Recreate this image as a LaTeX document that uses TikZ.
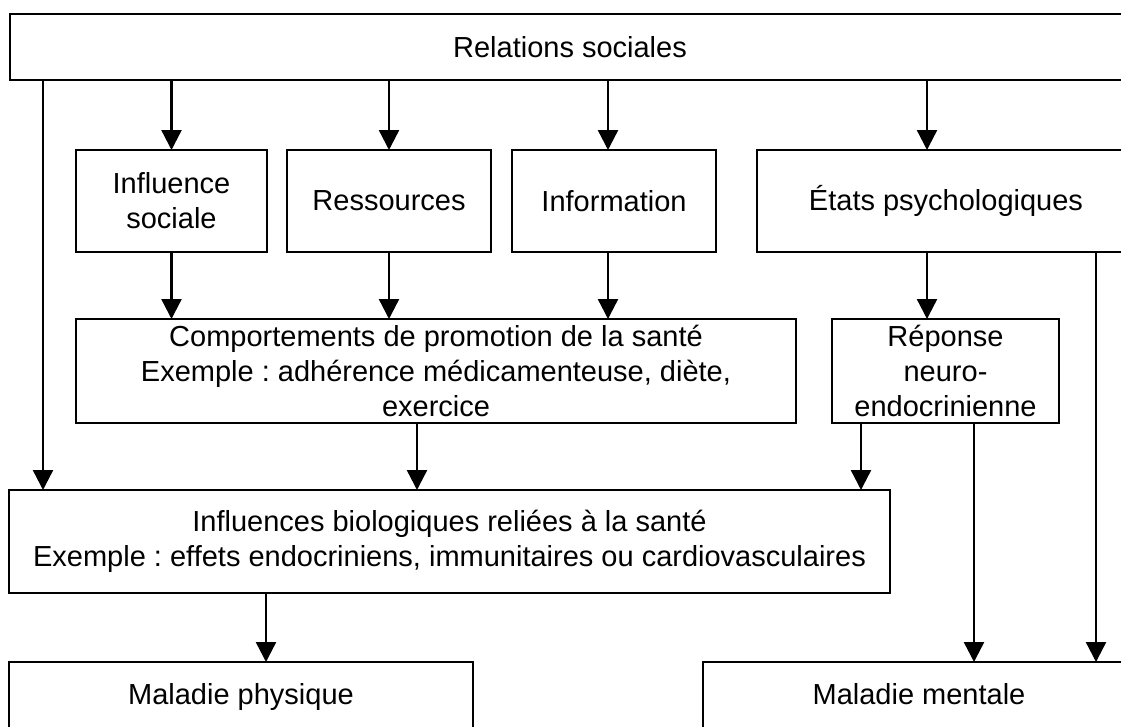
\documentclass[tikz,border=0pt]{standalone}
\usepackage{fontspec}
\setmainfont{Liberation Sans}
\usetikzlibrary{arrows.meta,calc,positioning}
\frenchspacing

\begin{document}
\begin{tikzpicture}[
  x=1pt,y=-1pt,
  >={Triangle[length=20pt,width=20pt]},
  box/.style={draw,line width=2.4pt,align=center,inner sep=0pt,outer sep=0pt,
              font=\fontsize{29}{35}\selectfont},
  link/.style={->,line width=2.4pt}
]
\useasboundingbox[fill=white] (0,0) rectangle (1121,726);

\node[box,anchor=north west,minimum width=1120pt,minimum height=66pt] (rel) at (10,14) {Relations sociales};

\node[box,anchor=north west,minimum width=191pt,minimum height=102pt] (infl) at (76,150) {Influence\\sociale};
\node[box,right=20pt of infl,minimum width=204pt,minimum height=102pt] (res) {Ressources};
\node[box,right=21pt of res,minimum width=204pt,minimum height=102pt] (info) {Information};
\node[box,right=41pt of info,minimum width=378pt,minimum height=102pt] (etats) {États psychologiques};

\node[box,anchor=north west,minimum width=720pt,minimum height=104pt] (comp) at (76,319)
  {Comportements de promotion de la santé\\Exemple : adhérence médicamenteuse, diète,\\exercice};
\node[box,right=36pt of comp,minimum width=227pt,minimum height=104pt] (rep) {Réponse\\neuro-\\endocrinienne};

\node[box,anchor=north west,minimum width=881pt,minimum height=103pt] (bio) at (9,490)
  {Influences biologiques reliées à la santé\\Exemple : effets endocriniens, immunitaires ou cardiovasculaires};

\node[box,anchor=north west,minimum width=464pt,minimum height=70pt,text height=21pt,text depth=7pt] (phys) at (9,662) {Maladie physique};
\node[box,anchor=north west,minimum width=432pt,minimum height=70pt,text height=21pt,text depth=7pt] (ment) at (703,662) {Maladie mentale};

\draw[link] ($(rel.south west)+(33,0)$) -- ($(bio.north west)+(34,0)$);
\draw[link] (rel.south -| infl.north) -- (infl.north);
\draw[link] (rel.south -| res.north) -- (res.north);
\draw[link] ($(rel.south -| info.north)+(-6,0)$) -- ($(info.north)+(-6,0)$);
\draw[link] ($(rel.south -| etats.north)+(-19,0)$) -- ($(etats.north)+(-19,0)$);

\draw[link] (infl.south) -- (infl.south |- comp.north);
\draw[link] (res.south) -- (res.south |- comp.north);
\draw[link] ($(info.south)+(-6,0)$) -- ($(info.south |- comp.north)+(-6,0)$);
\draw[link] ($(etats.south -| rep.north)+(-18.5,0)$) -- ($(rep.north)+(-18.5,0)$);
\draw[link] ($(etats.south east)+(-39,0)$) -- ($(ment.north east)+(-39,0)$);

\draw[link] ($(comp.south)+(-19,0)$) -- ($(comp.south |- bio.north)+(-19,0)$);
\draw[link] ($(rep.south west)+(29,0)$) -- ($(rep.south west |- bio.north)+(29,0)$);
\draw[link] ($(rep.south west)+(142,0)$) -- ($(rep.south west |- ment.north)+(142,0)$);
\draw[link] ($(bio.south -| phys.north)+(25,0)$) -- ($(phys.north)+(25,0)$);
\end{tikzpicture}
\end{document}
